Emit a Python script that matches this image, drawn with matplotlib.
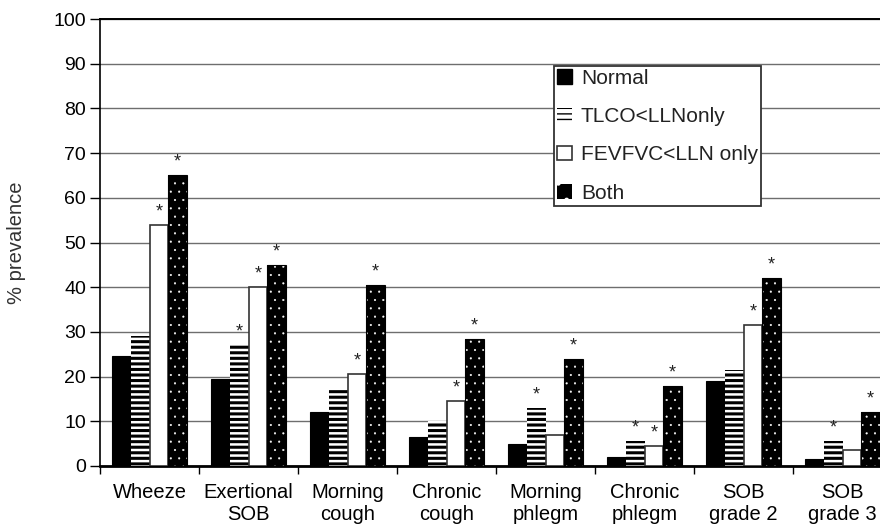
import numpy as np
import matplotlib.pyplot as plt
from matplotlib.patches import Patch

plt.rcParams['font.family'] = ['Liberation Sans', 'DejaVu Sans']
plt.rcParams['text.color'] = '#222222'

categories = ['Wheeze', 'Exertional\nSOB', 'Morning\ncough', 'Chronic\ncough',
              'Morning\nphlegm', 'Chronic\nphlegm', 'SOB\ngrade 2', 'SOB\ngrade 3']
series = ['Normal', 'TLCO<LLNonly', 'FEVFVC<LLN only', 'Both']
normal = [24.5, 19.5, 12, 6.5, 5, 2, 19, 1.5]
tlco = [29, 27, 17.5, 10, 13, 5.5, 21.5, 5.5]
fevfvc = [54, 40, 20.5, 14.5, 7, 4.5, 31.5, 3.5]
both = [65, 45, 40.5, 28.5, 24, 18, 42, 12]
# significance stars per series
star_tlco = [0, 1, 0, 0, 1, 1, 0, 1]
star_fev = [1, 1, 1, 1, 0, 1, 1, 0]
star_both = [1, 1, 1, 1, 1, 1, 1, 1]

fig = plt.figure(figsize=(8.8, 5.28), dpi=100)
ax = fig.add_axes([100 / 880, 1 - 466 / 528, 792 / 880, 447 / 528])

x = np.arange(len(categories))
w = 0.187
offs = np.array([-1.5, -0.5, 0.5, 1.5]) * w

ax.bar(x + offs[0], normal, w, color='black', edgecolor='black', lw=0.8, zorder=3)
with plt.rc_context({'hatch.linewidth': 2.2}):
    ax.bar(x + offs[1], tlco, w, color='white', edgecolor='black', hatch='---', lw=0, zorder=3)
    h_tlco = Patch(facecolor='white', edgecolor='black', hatch='---', lw=0)
ax.bar(x + offs[2], fevfvc, w, color='white', edgecolor='#333333', lw=1.2, zorder=3)
with plt.rc_context({'hatch.linewidth': 0.3}):
    ax.bar(x + offs[3], both, w, color='black', edgecolor='white', hatch='..', lw=0, zorder=3)
    h_both = Patch(facecolor='black', edgecolor='white', hatch='.', lw=0)
ax.bar(x + offs[3], both, w, fill=False, edgecolor='black', lw=0.8, zorder=4)

for vals, stars, o in [(tlco, star_tlco, offs[1]), (fevfvc, star_fev, offs[2]), (both, star_both, offs[3])]:
    for i, (v, s) in enumerate(zip(vals, stars)):
        if s:
            ax.text(i + o, v + 1.0, '*', ha='center', va='bottom', fontsize=13, zorder=5)

ax.set_xlim(-0.5, len(categories) - 0.5)
ax.set_ylim(0, 100)
ax.set_yticks(np.arange(0, 101, 10))
ax.yaxis.grid(True, color='#6e6e6e', lw=1.0, zorder=0)
ax.set_axisbelow(True)
ax.set_xticks(x)
ax.set_xticklabels(categories, fontsize=14.5, linespacing=1.25)
ax.tick_params(axis='x', length=0, pad=12)
ax.set_xticks(np.arange(-0.5, len(categories), 1), minor=True)
ax.tick_params(axis='x', which='minor', length=6, direction='out', width=1.0)
ax.tick_params(axis='y', labelsize=14, length=7, width=1.0, pad=3)
ax.spines['top'].set_visible(False)
ax.spines['right'].set_visible(False)
ax.axhline(100, color='black', lw=1.4, zorder=2, clip_on=False)
ax.spines['left'].set_linewidth(1.2)
ax.spines['bottom'].set_linewidth(2.0)
ax.set_ylabel('% prevalence', fontsize=14.5, labelpad=20, color='#333333')

handles = [
    Patch(facecolor='black', edgecolor='black'),
    h_tlco,
    Patch(facecolor='white', edgecolor='#333333', lw=1.2),
    h_both,
]
leg = ax.legend(handles, series, loc='upper left', bbox_to_anchor=(0.573, 0.895),
                fontsize=15, handlelength=0.7, handleheight=0.7, handletextpad=0.45,
                labelspacing=0.92, borderpad=0.15, fancybox=False, framealpha=1,
                edgecolor='#333333', borderaxespad=0)
leg.get_frame().set_linewidth(1.3)
leg.set_zorder(6)

fig.savefig('out.png', dpi=100)
